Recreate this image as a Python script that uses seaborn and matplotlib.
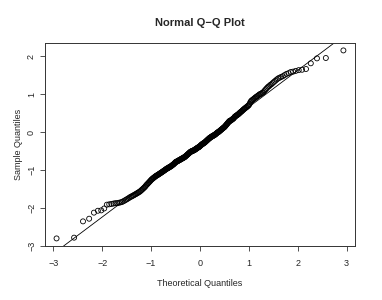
import numpy as np
import pandas as pd
import seaborn as sns
import matplotlib.pyplot as plt
from statistics import NormalDist

# sorted sample values (n = 300)
sample = [
    -2.80, -2.78, -2.35, -2.28, -2.12, -2.07, -2.06, -2.01, -1.91, -1.90,
    -1.89, -1.88, -1.87, -1.87, -1.86, -1.85, -1.84, -1.82, -1.80, -1.78,
    -1.76, -1.74, -1.72, -1.70, -1.69,
    -1.67, -1.66, -1.64, -1.63,
    -1.61, -1.60, -1.58, -1.57, -1.55, -1.53,
    -1.51, -1.49, -1.47, -1.45, -1.43, -1.40,
    -1.38, -1.36, -1.34, -1.32, -1.30, -1.28, -1.26,
    -1.24, -1.23, -1.21, -1.20, -1.19, -1.17, -1.16,
    -1.15, -1.14, -1.13, -1.12, -1.11, -1.10, -1.09, -1.08, -1.07,
    -1.06, -1.05, -1.04, -1.03, -1.02, -1.01, -1.00, -0.99, -0.98,
    -0.97, -0.96, -0.95, -0.95, -0.94, -0.93, -0.92, -0.91, -0.91, -0.90,
    -0.89, -0.88, -0.87, -0.86, -0.85, -0.84, -0.83, -0.82, -0.80, -0.79,
    -0.78, -0.78, -0.77, -0.76, -0.76, -0.75, -0.74, -0.74, -0.73, -0.72, -0.72,
    -0.71, -0.70, -0.70, -0.69, -0.68, -0.68, -0.67, -0.66, -0.66, -0.65, -0.64,
    -0.63, -0.62, -0.61, -0.60, -0.59, -0.58, -0.57, -0.56, -0.55, -0.54, -0.53, -0.52,
    -0.51, -0.51, -0.50, -0.50, -0.49, -0.49, -0.48, -0.48, -0.47, -0.47, -0.46,
    -0.45, -0.44, -0.44, -0.43, -0.42, -0.41, -0.41, -0.40, -0.39, -0.39, -0.38, -0.37,
    -0.36, -0.35, -0.34, -0.33, -0.32, -0.31, -0.31, -0.30, -0.29, -0.28, -0.28, -0.27,
    -0.26, -0.25, -0.24, -0.23, -0.22, -0.21, -0.20, -0.19, -0.18, -0.17, -0.16, -0.15,
    -0.14, -0.14, -0.13, -0.12, -0.11, -0.11, -0.10, -0.09, -0.09, -0.08, -0.07, -0.07,
    -0.06, -0.05, -0.04, -0.03, -0.02, -0.01, 0.00, 0.00, 0.01, 0.02, 0.03,
    0.04, 0.05, 0.06, 0.07, 0.08, 0.09, 0.10, 0.11, 0.12, 0.13, 0.14,
    0.15, 0.17, 0.18, 0.20, 0.21, 0.23, 0.24, 0.26, 0.27, 0.29,
    0.30, 0.30, 0.31, 0.32, 0.33, 0.34, 0.35, 0.36, 0.37, 0.39,
    0.41, 0.42, 0.43, 0.44, 0.45, 0.46, 0.47, 0.48, 0.50,
    0.51, 0.52, 0.54, 0.55, 0.56, 0.58, 0.59, 0.61,
    0.62, 0.63, 0.65, 0.66, 0.67, 0.69, 0.70, 0.72,
    0.75, 0.79, 0.82, 0.84, 0.85, 0.87, 0.88,
    0.90, 0.92, 0.93, 0.95, 0.96, 0.98,
    1.00, 1.01, 1.02, 1.04, 1.05,
    1.08, 1.11, 1.14, 1.17, 1.20,
    1.22, 1.25, 1.27, 1.30,
    1.33, 1.36, 1.39, 1.42,
    1.44, 1.46, 1.48,
    1.51, 1.54,
    1.56, 1.59,
    1.60, 1.62, 1.64, 1.65, 1.67, 1.82, 1.95, 1.96, 2.16,
]

x_ticks = [-3, -2, -1, 0, 1, 2, 3]
y_ticks = [-3, -2, -1, 0, 1, 2]

n = len(sample)
nd = NormalDist()
theo = [nd.inv_cdf((i - 0.5) / n) for i in range(1, n + 1)]
df = pd.DataFrame({"theoretical": theo, "sample": sample})

# qqline through the quartiles, like R
yq = np.quantile(sample, [0.25, 0.75])
xq = np.array([nd.inv_cdf(0.25), nd.inv_cdf(0.75)])
slope = (yq[1] - yq[0]) / (xq[1] - xq[0])
inter = yq[0] - slope * xq[0]

sns.set_style("ticks")
plt.rcParams["font.family"] = ["Liberation Sans", "DejaVu Sans"]

fig = plt.figure(figsize=(3.82, 3.0), dpi=100)
ax = fig.add_axes([0.118, 0.18, 0.811, 0.677])

sns.scatterplot(data=df, x="theoretical", y="sample", ax=ax,
                marker="o", s=13, facecolor="none", edgecolor="black",
                linewidth=0.6)
ax.axline((0, inter), slope=slope, color="black", lw=0.6)

xr = max(theo) - min(theo)
yr = max(sample) - min(sample)
ax.set_xlim(min(theo) - 0.04 * xr, max(theo) + 0.04 * xr)
ax.set_ylim(min(sample) - 0.04 * yr, max(sample) + 0.04 * yr)

ax.set_xticks(x_ticks)
ax.set_yticks(y_ticks)
ax.tick_params(labelsize=6.5, length=3.5, width=0.6, color="#333333")
ax.tick_params(axis="x", pad=6)
ax.tick_params(axis="y", pad=3)
for lab in ax.get_yticklabels():
    lab.set_rotation(90)
    lab.set_va("center")
for s in ax.spines.values():
    s.set_visible(True)
    s.set_linewidth(0.7)
    s.set_color("#333333")

ax.set_xlabel("Theoretical Quantiles", fontsize=6.5, labelpad=8)
ax.set_ylabel("Sample Quantiles", fontsize=6.5, labelpad=3)
ax.set_title("Normal Q\u2212Q Plot", fontsize=8, fontweight="bold", pad=12.5)

fig.savefig("out.png", dpi=100)
